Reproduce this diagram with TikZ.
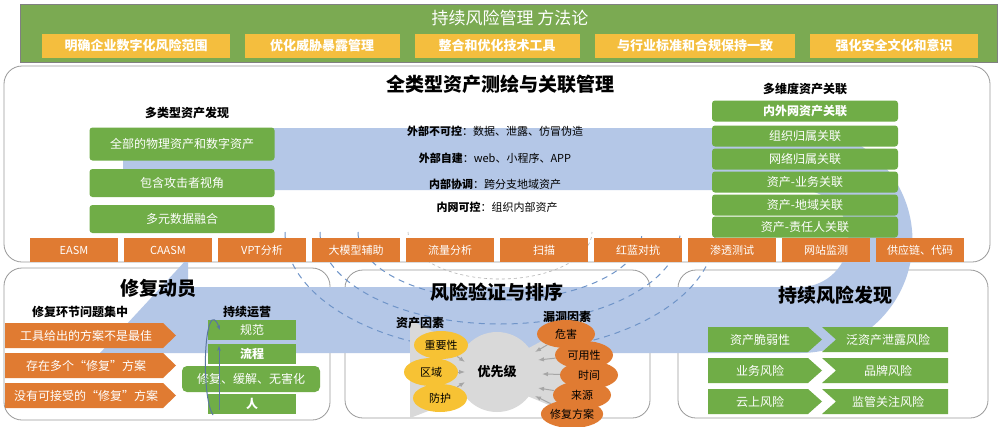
\documentclass[tikz,border=0pt]{standalone}
\usepackage{fontspec}
\setmainfont{Noto Sans CJK SC}
\usetikzlibrary{arrows.meta,shapes.geometric}
\definecolor{bandblue}{HTML}{B4C7E7}
\definecolor{leaf}{HTML}{70AD47}
\definecolor{banner}{HTML}{7BAA52}
\definecolor{rust}{HTML}{E07B32}
\definecolor{gold}{HTML}{F4BE3E}
\definecolor{sun}{HTML}{F7C234}
\definecolor{grey}{HTML}{D9D9D9}
\definecolor{arcblue}{HTML}{6F94C8}
\tikzset{
  panel/.style={draw=gray!80, rounded corners=18pt, line width=0.8pt},
  title/.style={font=\fontsize{19}{21}\selectfont\bfseries},
  subtitle/.style={font=\fontsize{12}{14}\selectfont\bfseries},
  greenbox/.style={fill=leaf, text=white, rounded corners=3pt, inner sep=0pt, font=\fontsize{12}{14}\selectfont},
  tool/.style={fill=rust, text=white, minimum width=88, minimum height=24, inner sep=0pt, font=\fontsize{11}{13}\selectfont},
  goal/.style={fill=gold, text=white, inner sep=0pt, minimum height=24, font=\fontsize{13}{15}\selectfont\bfseries},
  ring/.style={dashed, arcblue, line width=1pt, dash pattern=on 6pt off 5pt},
  ringtext/.style={font=\fontsize{11}{13}\selectfont},
  factor/.style={ellipse, inner sep=0pt, minimum width=54, minimum height=28, font=\fontsize{11}{13}\selectfont},
  push/.style={-{Latex[length=6pt]}, gray!70, line width=1pt}
}
\begin{document}
\begin{tikzpicture}[x=1pt,y=-1pt]
        \useasboundingbox (0,0) rectangle (1000,426);
        \fill[white] (0,0) rectangle (1000,426);
        % banner
        \fill[banner, draw=gray] (20,4) rectangle (997,62);
        \node (b0) [text=white, font=\fontsize{17}{19}\selectfont] at (510,18) {持续风险管理 方法论};
        \begin{scope}[every node/.style={goal}]
            \node (g1) [minimum width=188] at (136,46) {明确企业数字化风险范围};
            \node (g2) [minimum width=155] at (322,46) {优化威胁暴露管理};
            \node (g3) [minimum width=165] at (497,46) {整合和优化技术工具};
            \node (g4) [minimum width=200] at (695,46) {与行业标准和合规保持一致};
            \node (g5) [minimum width=168] at (894,46) {强化安全文化和意识};
        \end{scope}
        % panels
        \draw[panel] (4,66) rectangle (990,262);
        \draw[panel] (4,268) rectangle (330,420);
        \draw[panel] (345,270) rectangle (650,418);
        \draw[panel] (678,270) rectangle (988,418);
        % blue cycle band
        \fill[bandblue] (123,128) -- (800,128) arc[start angle=-90, end angle=90, radius=112.5]
            -- (100,353) -- (188,258) -- (188,287) -- (800,287)
            arc[start angle=90, end angle=-90, radius=48.5] -- (800,190) -- (123,190) -- cycle;
        % rings
        \draw[ring] (285,232) arc[start angle=180, end angle=0, x radius=215, y radius=120];
        \draw[ring] (320,232) arc[start angle=180, end angle=0, x radius=180, y radius=92];
        \draw[ring] (358,232) arc[start angle=180, end angle=0, x radius=142, y radius=68];
        \draw[gray!60, line width=0.6pt, dashed] (408,232) arc[start angle=180, end angle=0, x radius=92, y radius=47];
        \node (r1) [ringtext] at (495,131) {\textbf{外部不可控}：数据、泄露、仿冒伪造};
        \node (r2) [ringtext] at (495,158) {\textbf{外部自建}：web、小程序、APP};
        \node (r3) [ringtext] at (495,184) {\textbf{内部协调}：跨分支地域资产};
        \node (r4) [ringtext] at (497,207) {\textbf{内网可控}：组织内部资产};
        % top section
        \node (t0) [title] at (500,84) {全类型资产测绘与关联管理};
        \node (d0) [subtitle] at (187,113) {多类型资产发现};
        \begin{scope}[every node/.style={greenbox, minimum width=185}]
            \node (d1) [minimum height=33] at (182,144) {全部的物理资产和数字资产};
            \node (d2) [minimum height=28] at (182,183) {包含攻击者视角};
            \node (d3) [minimum height=28] at (182,219) {多元数据融合};
        \end{scope}
        \node (m0) [subtitle] at (805,89) {多维度资产关联};
        \begin{scope}[every node/.style={greenbox, minimum width=186, minimum height=21}]
            \node (m1) [font=\fontsize{12}{14}\selectfont\bfseries] at (805,111) {内外网资产关联};
            \node (m2) at (805,136) {组织归属关联};
            \node (m3) at (805,159) {网络归属关联};
            \node (m4) at (805,182) {资产-业务关联};
            \node (m5) at (805,205) {资产-地域关联};
            \node (m6) at (805,227) {资产-责任人关联};
        \end{scope}
        \foreach \txt [count=\i from 0] in {EASM,CAASM,VPT分析,大模型辅助,流量分析,扫描,红蓝对抗,渗透测试,网站监测,供应链、代码}
            \node (k\i) [tool] at (74+94*\i,250) {\txt};
        % repair mobilisation
        \node (f0) [title] at (158,288) {修复动员};
        \node (f1) [subtitle] at (80,312) {修复环节问题集中};
        \foreach \txt [count=\i] in {工具给出的方案不是最佳,存在多个“修复”方案,没有可接受的“修复”方案} {
            \fill[rust] (5,293+30*\i) -- (163,293+30*\i) -- (176,305.5+30*\i) -- (163,318+30*\i) -- (5,318+30*\i) -- cycle;
            \node (p\i) [text=white, font=\fontsize{12}{14}\selectfont] at (86,305.5+30*\i) {\txt};
        }
        \node (o0) [subtitle] at (247,312) {持续运营};
        \begin{scope}[every node/.style={greenbox, rounded corners=0pt, minimum width=88, minimum height=20}]
            \node (o1) at (252,330) {规范};
            \node (o2) [font=\fontsize{12}{14}\selectfont\bfseries] at (252,354) {流程};
            \node (o4) [font=\fontsize{12}{14}\selectfont\bfseries] at (252,404) {人};
            \node (o3) [rounded corners=5pt, minimum width=138, minimum height=26] at (251,379) {修复、缓解、无害化};
        \end{scope}
        \coordinate (lb) at (213,415);
        \coordinate (lt) at (220,330);
        \coordinate (ub) at (219,410);
        \coordinate (ut) at (219,346);
        \draw[arcblue!80!black, line width=1pt, -{Stealth[length=5pt]}]
            (lb) .. controls (203,400) and (203,330) .. (212,320) .. controls (216,318) and (218,325) .. (lt);
        \draw[arcblue!80!black, line width=1pt, -{Stealth[length=5pt]}] (ub) -- (ut);
        % risk validation
        \node (v0) [title] at (497,292) {风险验证与排序};
        \fill[grey] (410,320) -- (470,350) -- (525,350) -- (585,318) -- (585,420) -- (525,395) -- (470,395) -- (410,418) -- cycle;
        \fill[grey] (497,372) circle[radius=40];
        \node (v1) [font=\fontsize{13}{15}\selectfont\bfseries] at (497,372) {优先级};
        \node (a0) [subtitle] at (420,323) {资产因素};
        \node (u0) [subtitle] at (567,317) {漏洞因素};
        \begin{scope}[every node/.style={factor, fill=sun}]
            \node (a1) at (441,345) {重要性};
            \node (a2) at (431,372) {区域};
            \node (a3) at (440,398) {防护};
        \end{scope}
        \begin{scope}[every node/.style={factor, fill=rust, minimum width=58}]
            \node (u1) at (566,334) {危害};
            \node (u2) at (584,355) {可用性};
            \node (u3) at (589,375) {时间};
            \node (u4) at (582,395) {来源};
            \node (u5) at (572,414) {修复方案};
        \end{scope}
        \draw[push] (a1) -- (465,362);
        \draw[push] (a2) -- (465,372);
        \draw[push] (a3) -- (465,382);
        \draw[push] (u1) -- (535,352);
        \draw[push] (u2) -- (538,360);
        \draw[push] (u3) -- (542,374);
        \draw[push] (u4) -- (538,388);
        \draw[push] (u5) -- (535,396);
        % continuous risk discovery
        \node (c0) [title] at (835,295) {持续风险发现};
        \foreach \lt/\rt [count=\i] in {资产脆弱性/泛资产泄露风险,业务风险/品牌风险,云上风险/监管关注风险} {
            \fill[leaf] (708,296+31*\i) -- (808,296+31*\i) -- (822,308.5+31*\i) -- (808,321+31*\i) -- (708,321+31*\i) -- cycle;
            \fill[leaf] (822,296+31*\i) -- (948,296+31*\i) -- (948,321+31*\i) -- (822,321+31*\i) -- (836,308.5+31*\i) -- cycle;
            \node (cl\i) [text=white, font=\fontsize{12}{14}\selectfont] at (760,308.5+31*\i) {\lt};
            \node (cr\i) [text=white, font=\fontsize{12}{14}\selectfont] at (888,308.5+31*\i) {\rt};
        }
    \end{tikzpicture}
\end{document}
